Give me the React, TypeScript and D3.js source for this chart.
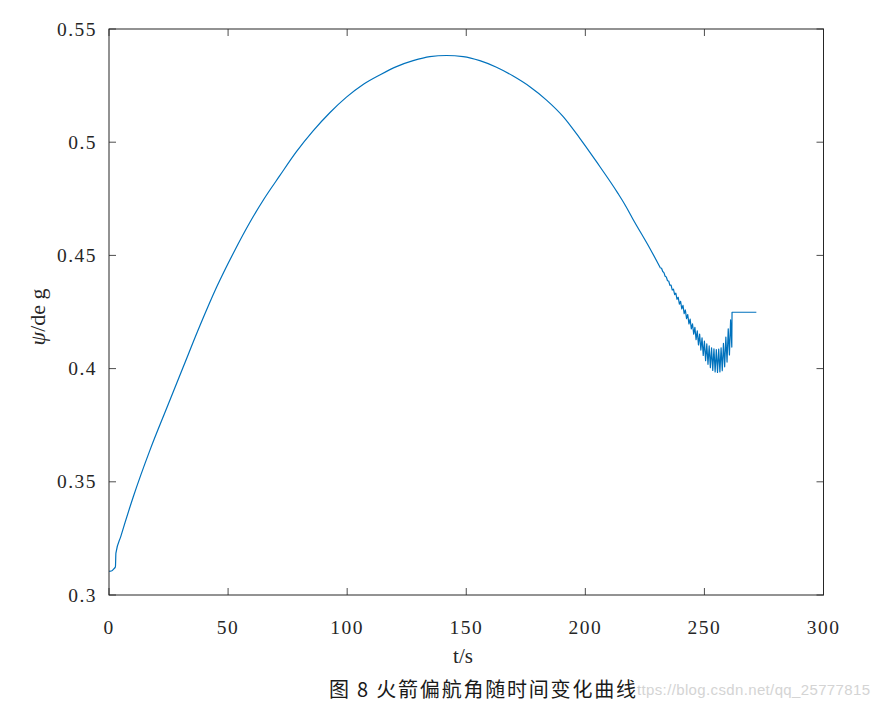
import * as d3 from 'd3'
import React, { useEffect, useRef } from 'react'

// smooth part of the yaw angle curve (t in s, psi in deg)
const mainT = [
  0, 1, 2, 2.7, 2.9, 5, 10.2, 17.2, 24.2, 31.2, 38.2, 45.2, 52.9, 59, 65, 71.7, 78.7, 85.7, 92.7, 99.7,
  106.7, 113.7, 120.7, 127.7, 134.7, 141.7, 148.7, 155.7, 162.7, 169.7, 176.7, 183.7, 190.7, 197.7,
  204.6, 213.7, 216.4, 220, 227, 231.5,
]
const mainPsi = [
  0.3105, 0.3106, 0.3115, 0.3125, 0.3185, 0.326, 0.3434, 0.364, 0.3825, 0.4008, 0.419, 0.436, 0.4524,
  0.4643, 0.4748, 0.4852, 0.4958, 0.505, 0.513, 0.5199, 0.5255, 0.5297, 0.5334, 0.536, 0.5378, 0.5383,
  0.5378, 0.536, 0.5331, 0.5292, 0.5245, 0.5186, 0.5113, 0.5017, 0.4915, 0.4774, 0.4728, 0.466, 0.4533,
  0.4445,
]

// oscillating tail: tooth times, upper and lower values
const toothT = [
  232, 233, 234, 235, 236, 237, 238, 239, 240, 241, 242, 243, 244, 245, 246, 247, 248, 249, 250, 251, 252,
  253, 254, 255, 256, 257, 258, 259, 260, 261,
]
const toothHi = [
  0.4443, 0.4424, 0.4405, 0.4387, 0.4369, 0.4351, 0.4333, 0.4315, 0.4297, 0.4279, 0.4259, 0.4239, 0.4219,
  0.4198, 0.4182, 0.4167, 0.4152, 0.4136, 0.4121, 0.4109, 0.41, 0.4092, 0.4087, 0.4084, 0.4086, 0.4092,
  0.4112, 0.4139, 0.4176, 0.4215,
]
const toothLo = [
  0.4429, 0.4408, 0.4388, 0.4368, 0.4347, 0.4327, 0.4306, 0.4285, 0.4264, 0.4243, 0.4221, 0.4197, 0.4175,
  0.4152, 0.4128, 0.4105, 0.4082, 0.4058, 0.4035, 0.4019, 0.4004, 0.3992, 0.3985, 0.3983, 0.3985, 0.3991,
  0.4008, 0.4029, 0.406, 0.4095,
]

// final hold after the jump
const holdT = [261.6, 271.8]
const holdPsi = [0.4249, 0.4249]

const xTicks = [0, 50, 100, 150, 200, 250, 300]
const yTicks = [0.3, 0.35, 0.4, 0.45, 0.5, 0.55]
const yTickLabels = ['0.3', '0.35', '0.4', '0.45', '0.5', '0.55']

const W = 880
const H = 706
const left = 109
const right = 823.5
const top = 29
const bottom = 595

export default function App() {
  const svgRef = useRef<SVGSVGElement | null>(null)

  useEffect(() => {
    const svg = d3.select(svgRef.current)
    svg.selectAll('*').remove()

    const x = d3.scaleLinear().domain([0, 300]).range([left, right])
    const y = d3.scaleLinear().domain([0.3, 0.55]).range([bottom, top])

    const mainPts: [number, number][] = mainT.map((t, i) => [t, mainPsi[i]])
    const tailPts: [number, number][] = [mainPts[mainPts.length - 1]]
    toothT.forEach((t, i) => {
      tailPts.push([t, toothHi[i]])
      tailPts.push([t + 0.5, toothLo[i]])
    })
    holdT.forEach((t, i) => tailPts.push([t, holdPsi[i]]))

    const smooth = d3
      .line<[number, number]>()
      .x((d) => x(d[0]))
      .y((d) => y(d[1]))
      .curve(d3.curveMonotoneX)
    const straight = d3
      .line<[number, number]>()
      .x((d) => x(d[0]))
      .y((d) => y(d[1]))

    svg.append('path').attr('d', smooth(mainPts)).attr('fill', 'none')
      .attr('stroke', '#0072BD').attr('stroke-width', 1.2)
    svg.append('path').attr('d', straight(tailPts)).attr('fill', 'none')
      .attr('stroke', '#0072BD').attr('stroke-width', 1.2).attr('stroke-linejoin', 'round')

    const tickLen = 7
    const tickColor = '#4d4d4d'
    const font = '"Liberation Serif", "Times New Roman", serif'

    // ticks, inside on all four sides
    xTicks.forEach((t) => {
      svg.append('line').attr('x1', x(t)).attr('x2', x(t)).attr('y1', bottom).attr('y2', bottom - tickLen)
        .attr('stroke', tickColor)
      svg.append('line').attr('x1', x(t)).attr('x2', x(t)).attr('y1', top).attr('y2', top + tickLen)
        .attr('stroke', tickColor)
      svg.append('text').attr('x', x(t)).attr('y', 634).attr('text-anchor', 'middle')
        .attr('font-family', font).attr('font-size', 19.5).attr('letter-spacing', 1.5).attr('fill', '#262626')
        .text(String(t))
    })
    yTicks.forEach((v, i) => {
      svg.append('line').attr('x1', left).attr('x2', left + tickLen).attr('y1', y(v)).attr('y2', y(v))
        .attr('stroke', tickColor)
      svg.append('line').attr('x1', right).attr('x2', right - tickLen).attr('y1', y(v)).attr('y2', y(v))
        .attr('stroke', tickColor)
      svg.append('text').attr('x', 97).attr('y', y(v) + 6.5).attr('text-anchor', 'end')
        .attr('font-family', font).attr('font-size', 19.5).attr('letter-spacing', 1.5).attr('fill', '#262626')
        .text(yTickLabels[i])
    })

    // box
    svg.append('rect').attr('x', left).attr('y', top).attr('width', right - left).attr('height', bottom - top)
      .attr('fill', 'none').attr('stroke', '#262626').attr('stroke-width', 1)

    // axis labels
    svg.append('text').attr('x', 463).attr('y', 663).attr('text-anchor', 'middle')
      .attr('font-family', font).attr('font-size', 21).attr('fill', '#262626').text('t/s')

    const yl = svg.append('text').attr('transform', 'translate(45,317) rotate(-90)').attr('text-anchor', 'middle')
      .attr('font-family', font).attr('font-size', 22).attr('fill', '#262626')
    yl.append('tspan').attr('font-style', 'italic').text('ψ')
    yl.append('tspan').text('/de g')

    // watermark, partly covered by the caption
    svg.append('text').attr('x', 637).attr('y', 695)
      .attr('font-family', '"Liberation Sans", Arial, sans-serif').attr('font-size', 15)
      .attr('fill', '#d4d4d4').attr('textLength', 233).text('ttps://blog.csdn.net/qq_25777815')

    svg.append('text').attr('x', 329).attr('y', 697)
      .attr('font-family', '"Noto Sans CJK SC", sans-serif').attr('font-size', 20).attr('fill', '#1a1a1a')
      .attr('textLength', 307).text('图 8 火箭偏航角随时间变化曲线')
  }, [])

  return (
    <svg
      ref={svgRef}
      width={W}
      height={H}
      style={{ position: 'absolute', left: 0, top: 0, background: '#fff' }}
    />
  )
}
